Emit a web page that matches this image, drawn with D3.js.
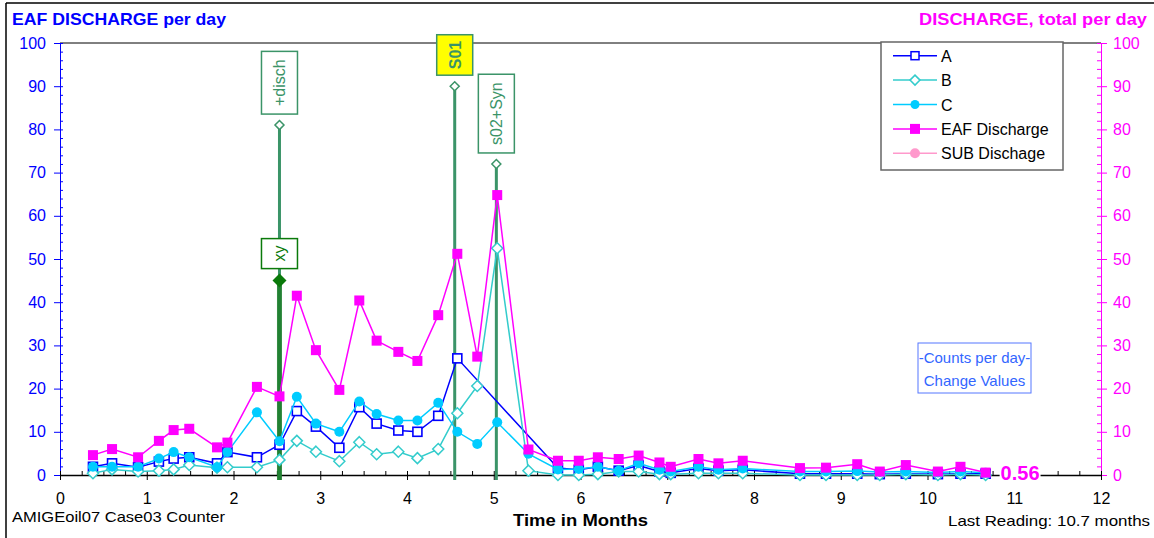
<!DOCTYPE html>
<html>
<head>
<meta charset="utf-8">
<script src="https://cdn.jsdelivr.net/npm/d3@7"></script>
<style>
  html, body { margin: 0; padding: 0; background: #fff; }
  svg { display: block; font-family: "Liberation Sans", Arial, sans-serif; }
</style>
</head>
<body>
<svg id="chart" width="1154" height="538"></svg>
<script>
// ---------- DATA ----------
const months = [0.38, 0.60, 0.90, 1.14, 1.31, 1.49, 1.81, 1.93, 2.27, 2.53,
                2.73, 2.95, 3.22, 3.45, 3.65, 3.90, 4.12, 4.36, 4.58, 4.81,
                5.04, 5.40, 5.74, 5.98, 6.20, 6.44, 6.67, 6.91, 7.04, 7.36,
                7.59, 7.87, 8.53, 8.83, 9.19, 9.45, 9.75, 10.12, 10.38, 10.67];
const seriesA = [1.9, 2.7, 1.8, 3.1, 3.8, 4.1, 2.7, 5.3, 4.1, 7.0,
                 14.8, 11.2, 6.3, 15.7, 11.9, 10.3, 10.0, 13.7, 27.0, null,
                 null, null, 1.6, 1.2, 1.9, 1.0, 2.2, 0.8, 0.5, 1.5,
                 1.0, 1.2, 0.3, 0.3, 0.3, 0.2, 0.3, 0.2, 0.3, 0.3];
const seriesB = [0.4, 1.3, 0.8, 1.0, 1.3, 2.3, 1.7, 1.8, 1.8, 3.5,
                 7.9, 5.4, 3.2, 7.6, 4.8, 5.4, 3.9, 6.0, 14.3, 20.6,
                 52.5, 1.0, 0.0, 0.0, 0.2, 0.8, 0.8, 0.2, 0.2, 0.4,
                 0.4, 0.4, 0.0, 0.0, 0.0, 0.0, 0.2, 0.0, 0.2, 0.0];
const seriesC = [1.9, 1.9, 1.9, 3.8, 5.3, 4.1, 1.8, 5.3, 14.5, 7.8,
                 18.1, 11.9, 10.0, 17.0, 14.1, 12.6, 12.6, 16.7, 10.0, 7.2,
                 12.2, 4.9, 1.3, 1.4, 1.9, 1.0, 2.7, 1.2, 0.8, 1.9,
                 1.2, 1.5, 0.8, 0.8, 0.9, 0.7, 0.8, 0.6, 0.8, 0.5];
const seriesEAF = [4.6, 6.0, 4.1, 7.9, 10.4, 10.7, 6.4, 7.5, 20.4, 18.2,
                   41.5, 28.9, 19.7, 40.4, 31.1, 28.5, 26.4, 37.0, 51.2, 27.4,
                   64.8, 5.9, 3.3, 3.3, 4.1, 3.7, 4.5, 2.9, 1.9, 3.7,
                   2.7, 3.3, 1.6, 1.7, 2.5, 0.8, 2.3, 0.8, 1.9, 0.56];
const seriesSUB = [];

const xTicks = [0, 1, 2, 3, 4, 5, 6, 7, 8, 9, 10, 11, 12];
const yTicks = [0, 10, 20, 30, 40, 50, 60, 70, 80, 90, 100];

const eventMonths = [2.53, 4.55, 5.03];
const eventTops = [81, 90, 72];
const eventLabels = ["+disch", "S01", "s02+Syn"];
const xyMonth = 2.53, xyValue = 45, xyLabel = "xy";

const legendNames = ["A", "B", "C", "EAF Discharge", "SUB Dischage"];
const lastValueLabel = "0.56";

// ---------- SETUP ----------
const svg = d3.select("#chart");
const FONT = '"Liberation Sans", Arial, sans-serif';
const x = d3.scaleLinear().domain([0, 12]).range([60, 1101]);
const y = d3.scaleLinear().domain([0, 100]).range([475, 43]);

const BLUE = "#0000ff", MAG = "#ff00ff", TURQ = "#33cccc", CYAN = "#00ccff", PINK = "#ff99cc";
const EVG = "#3b9468", XYG = "#1f7f2e";

// outer frame
svg.append("line").attr("x1", 6).attr("y1", 3).attr("x2", 1154).attr("y2", 3).attr("stroke", "#000").attr("stroke-width", 1.5);
svg.append("line").attr("x1", 6).attr("y1", 3).attr("x2", 6).attr("y2", 538).attr("stroke", "#000").attr("stroke-width", 1.5);

// titles
svg.append("text").attr("x", 12).attr("y", 25).attr("font-size", 17).attr("font-weight", "bold")
  .attr("fill", BLUE).attr("textLength", 214).attr("lengthAdjust", "spacingAndGlyphs").text("EAF DISCHARGE per day");
svg.append("text").attr("x", 919).attr("y", 25).attr("font-size", 17).attr("font-weight", "bold")
  .attr("fill", MAG).attr("textLength", 228).attr("lengthAdjust", "spacingAndGlyphs").text("DISCHARGE, total per day");

// plot top border
svg.append("line").attr("x1", x(0)).attr("x2", x(12)).attr("y1", y(100)).attr("y2", y(100)).attr("stroke", "#000").attr("stroke-width", 1);

// ---------- AXES ----------
function styleAxis(g, color, fs) {
  g.selectAll("path").attr("stroke", color);
  g.selectAll("line").attr("stroke", color);
  g.selectAll("text").attr("fill", color).attr("font-size", fs).attr("font-family", FONT);
}
// left
const gL = svg.append("g").attr("transform", `translate(${x(0)},0)`)
  .call(d3.axisLeft(y).tickValues(yTicks).tickSize(6).tickSizeOuter(0).tickPadding(8));
styleAxis(gL, BLUE, 16);
const gLm = svg.append("g").attr("transform", `translate(${x(0)},0)`)
  .call(d3.axisRight(y).tickValues(d3.range(0, 101, 2)).tickSize(3).tickSizeOuter(0).tickFormat(""));
styleAxis(gLm, BLUE, 16);
// right
const gR = svg.append("g").attr("transform", `translate(${x(12)},0)`)
  .call(d3.axisRight(y).tickValues(yTicks).tickSize(6).tickSizeOuter(0).tickPadding(6));
styleAxis(gR, MAG, 16);
const gRm = svg.append("g").attr("transform", `translate(${x(12)},0)`)
  .call(d3.axisLeft(y).tickValues(d3.range(0, 101, 2)).tickSize(4).tickSizeOuter(0).tickFormat(""));
styleAxis(gRm, MAG, 16);
// bottom
const gB = svg.append("g").attr("transform", `translate(0,${y(0)})`)
  .call(d3.axisBottom(x).tickValues(xTicks).tickSize(5).tickSizeOuter(0).tickPadding(13));
styleAxis(gB, "#000", 16);
const gBm = svg.append("g").attr("transform", `translate(0,${y(0)})`)
  .call(d3.axisTop(x).tickValues(d3.range(0, 12.01, 0.25)).tickSize(4).tickSizeOuter(0).tickFormat(""));
styleAxis(gBm, "#000", 16);
gB.select("path").attr("stroke-width", 1.5);

// bottom texts
svg.append("text").attr("x", 12).attr("y", 522).attr("font-size", 15).attr("fill", "#000")
  .attr("textLength", 213).attr("lengthAdjust", "spacingAndGlyphs").text("AMIGEoil07 Case03 Counter");
svg.append("text").attr("x", 513).attr("y", 526).attr("font-size", 17).attr("font-weight", "bold").attr("fill", "#000")
  .attr("textLength", 135).attr("lengthAdjust", "spacingAndGlyphs").text("Time in Months");
svg.append("text").attr("x", 948).attr("y", 526).attr("font-size", 15).attr("fill", "#000")
  .attr("textLength", 202).attr("lengthAdjust", "spacingAndGlyphs").text("Last Reading: 10.7 months");

// ---------- EVENT LINES ----------
const gEv = svg.append("g");
eventMonths.forEach((m, i) => {
  const cx = x(m), top = y(eventTops[i]);
  gEv.append("line").attr("x1", cx).attr("x2", cx).attr("y1", y(0) + 5).attr("y2", top)
    .attr("stroke", EVG).attr("stroke-width", 3);
});
// xy thicker line
gEv.append("line").attr("x1", x(xyMonth)).attr("x2", x(xyMonth)).attr("y1", y(0) + 5).attr("y2", y(xyValue))
  .attr("stroke", XYG).attr("stroke-width", 5).attr("opacity", 0.9);

// ---------- SERIES ----------
const pts = (vals) => months.map((m, i) => ({ m, v: vals[i] }));
const line = d3.line().defined(d => d.v != null).x(d => x(d.m)).y(d => y(d.v));

function drawSeries(vals, color, width, marker) {
  const data = pts(vals);
  const g = svg.append("g");
  // connect across missing points (skip them)
  g.append("path").datum(data.filter(d => d.v != null)).attr("d", line)
    .attr("fill", "none").attr("stroke", color).attr("stroke-width", width);
  const md = data.filter(d => d.v != null);
  marker(g, md, color);
}
const sqOpen = (g, d, c) => g.selectAll("rect").data(d).join("rect")
  .attr("x", p => x(p.m) - 4.5).attr("y", p => y(p.v) - 4.5).attr("width", 9).attr("height", 9)
  .attr("fill", "#fff").attr("stroke", c).attr("stroke-width", 1.6);
const diaOpen = (g, d, c) => g.selectAll("path.m").data(d).join("path").attr("class", "m")
  .attr("d", p => `M${x(p.m)},${y(p.v) - 5.5}L${x(p.m) + 5.5},${y(p.v)}L${x(p.m)},${y(p.v) + 5.5}L${x(p.m) - 5.5},${y(p.v)}Z`)
  .attr("fill", "#fff").attr("stroke", c).attr("stroke-width", 1.5);
const circ = (g, d, c) => g.selectAll("circle").data(d).join("circle")
  .attr("cx", p => x(p.m)).attr("cy", p => y(p.v)).attr("r", 5).attr("fill", c);
const sqFill = (g, d, c) => g.selectAll("rect").data(d).join("rect")
  .attr("x", p => x(p.m) - 5).attr("y", p => y(p.v) - 5).attr("width", 10).attr("height", 10).attr("fill", c);

drawSeries(seriesA, BLUE, 1.5, sqOpen);
drawSeries(seriesB, TURQ, 1.5, diaOpen);
drawSeries(seriesC, CYAN, 1.5, circ);
drawSeries(seriesEAF, MAG, 1.5, sqFill);

// last value label (with white background)
{
  const lx = x(months[months.length - 1]) + 15;
  const t = svg.append("text").attr("x", lx).attr("y", 480).attr("font-size", 20).attr("font-weight", "bold")
    .attr("fill", MAG).text(lastValueLabel);
  const bb = t.node().getBBox();
  svg.insert("rect", () => t.node()).attr("x", bb.x - 1).attr("y", bb.y + 2).attr("width", bb.width + 2).attr("height", bb.height - 3).attr("fill", "#fff");
}

// ---------- EVENT MARKERS & LABEL BOXES ----------
function labelBox(cx, bottom, label, opts) {
  const g = svg.append("g");
  const t = g.append("text").attr("font-size", 16).attr("font-weight", opts.bold ? "bold" : "normal")
    .attr("fill", opts.text).attr("text-anchor", "middle").text(label);
  const len = t.node().getComputedTextLength();
  const h = len + opts.pad * 2, w = 36;
  const top = bottom - h;
  g.insert("rect", "text").attr("x", cx - w / 2).attr("y", top).attr("width", w).attr("height", h)
    .attr("fill", opts.fill).attr("stroke", opts.stroke).attr("stroke-width", 1.5);
  t.attr("transform", `translate(${cx + 6},${top + h / 2}) rotate(-90)`);
}
eventMonths.forEach((m, i) => {
  const cx = x(m), top = y(eventTops[i]);
  svg.append("path").attr("d", `M${cx},${top - 4.5}L${cx + 4.5},${top}L${cx},${top + 4.5}L${cx - 4.5},${top}Z`)
    .attr("fill", "#fff").attr("stroke", EVG).attr("stroke-width", 1.5);
  const hl = eventLabels[i] === "S01";
  labelBox(cx, top - 11, eventLabels[i], {
    bold: hl, text: EVG, fill: hl ? "#ffff00" : "#fff", stroke: EVG, pad: hl ? 6 : 8
  });
});
{
  const cx = x(xyMonth), cy = y(xyValue);
  svg.append("path").attr("d", `M${cx},${cy - 7}L${cx + 7},${cy}L${cx},${cy + 7}L${cx - 7},${cy}Z`).attr("fill", "#0a7a0a");
  labelBox(cx, cy - 12, xyLabel, { bold: false, text: "#0a7a0a", fill: "#fff", stroke: "#0a7a0a", pad: 7 });
}

// ---------- LEGEND ----------
const lg = svg.append("g");
lg.append("rect").attr("x", 881).attr("y", 42).attr("width", 182).attr("height", 128)
  .attr("fill", "#fff").attr("stroke", "#666").attr("stroke-width", 1.5);
const legColors = [BLUE, TURQ, CYAN, MAG, PINK];
legendNames.forEach((name, i) => {
  const ry = 55.7 + i * 24.4;
  lg.append("line").attr("x1", 893).attr("x2", 937).attr("y1", ry).attr("y2", ry)
    .attr("stroke", legColors[i]).attr("stroke-width", 1.5);
  const mx = 915;
  if (i === 0) lg.append("rect").attr("x", mx - 4).attr("y", ry - 4).attr("width", 8).attr("height", 8)
    .attr("fill", "#fff").attr("stroke", BLUE).attr("stroke-width", 1.5);
  if (i === 1) lg.append("path").attr("d", `M${mx},${ry - 5}L${mx + 5},${ry}L${mx},${ry + 5}L${mx - 5},${ry}Z`)
    .attr("fill", "#fff").attr("stroke", TURQ).attr("stroke-width", 1.5);
  if (i === 2) lg.append("circle").attr("cx", mx).attr("cy", ry).attr("r", 4.5).attr("fill", CYAN);
  if (i === 3) lg.append("rect").attr("x", mx - 5).attr("y", ry - 5).attr("width", 10).attr("height", 10).attr("fill", MAG);
  if (i === 4) lg.append("circle").attr("cx", mx).attr("cy", ry).attr("r", 5).attr("fill", PINK);
  lg.append("text").attr("x", 941).attr("y", ry + 6).attr("font-size", 16).attr("fill", "#000").text(name);
});

// ---------- COUNTS BOX ----------
const cb = svg.append("g");
cb.append("rect").attr("x", 918).attr("y", 343).attr("width", 113).attr("height", 50)
  .attr("fill", "#fff").attr("stroke", "#5577ff").attr("stroke-width", 1);
cb.append("text").attr("x", 974.5).attr("y", 363).attr("text-anchor", "middle").attr("font-size", 15)
  .attr("fill", "#3366ff").text("-Counts per day-");
cb.append("text").attr("x", 974.5).attr("y", 386).attr("text-anchor", "middle").attr("font-size", 15)
  .attr("fill", "#3366ff").text("Change Values");
</script>
</body>
</html>
